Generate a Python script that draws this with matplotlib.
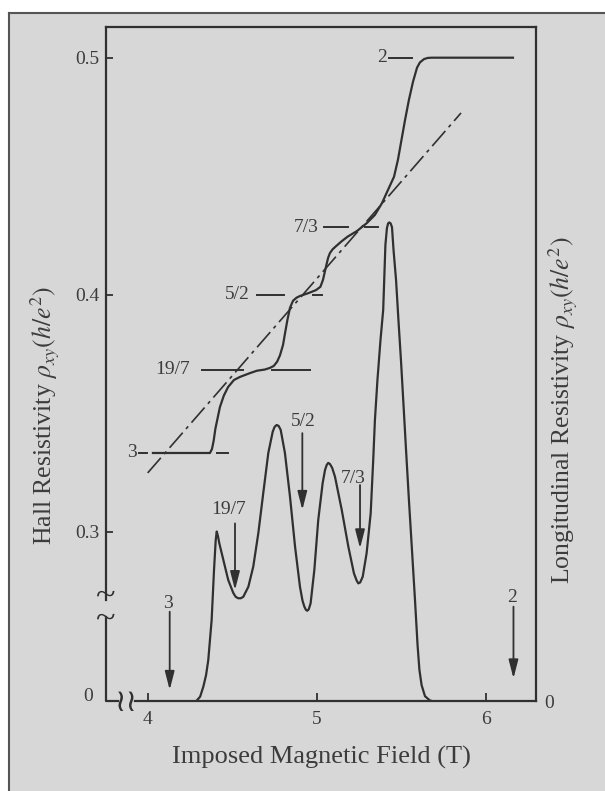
"""
Fractional quantum Hall effect: Hall and longitudinal resistivity vs field.
"""

import matplotlib.pyplot as plt
from matplotlib.patches import Rectangle
from matplotlib.lines import Line2D

plt.rcParams['font.family'] = ['Liberation Serif', 'DejaVu Serif', 'DejaVu Sans']
plt.rcParams['mathtext.fontset'] = 'stix'

INK = '#303030'
TEXT = '#3c3c3c'
PAPER = '#d7d7d7'

# Hall resistivity rho_xy in h/e^2 against field B (T)
hall_B = [4.031, 4.368, 4.380, 4.390, 4.400, 4.427, 4.450, 4.475, 4.510, 4.546,
          4.605, 4.646, 4.693, 4.723, 4.745, 4.765, 4.782, 4.800, 4.811, 4.826,
          4.841, 4.859, 4.880, 4.900, 4.953, 4.995, 5.021, 5.036, 5.054, 5.066,
          5.077, 5.093, 5.113, 5.145, 5.181, 5.237, 5.296, 5.343, 5.385, 5.420,
          5.456, 5.479, 5.500, 5.521, 5.544, 5.568, 5.592, 5.609, 5.633, 5.655,
          5.680, 6.159]
hall_v = [0.3333, 0.3333, 0.3350, 0.3385, 0.3435, 0.3527, 0.3575, 0.3611, 0.3641, 0.3654,
          0.367, 0.368, 0.3685, 0.3692, 0.3700, 0.3718, 0.3745, 0.3789, 0.3835, 0.3895,
          0.3945, 0.3975, 0.3988, 0.3995, 0.4008, 0.402, 0.4034, 0.4063, 0.4119, 0.4155,
          0.4176, 0.4192, 0.4205, 0.4225, 0.4245, 0.4269, 0.4303, 0.4337, 0.4387, 0.4442,
          0.4498, 0.4569, 0.4653, 0.4737, 0.4822, 0.4898, 0.4958, 0.4980, 0.4994, 0.4999,
          0.5, 0.5]

# longitudinal resistivity, arbitrary units (largest peak ~ 1)
xx_B = [4.285, 4.310, 4.329, 4.345, 4.358, 4.378, 4.392, 4.402, 4.408, 4.415,
        4.423, 4.447, 4.476, 4.506, 4.520, 4.535, 4.550, 4.565, 4.595, 4.624,
        4.654, 4.683, 4.713, 4.739, 4.750, 4.762, 4.774, 4.786, 4.811, 4.841,
        4.871, 4.900, 4.915, 4.926, 4.935, 4.943, 4.952, 4.963, 4.985, 5.008,
        5.034, 5.048, 5.058, 5.067, 5.077, 5.090, 5.107, 5.147, 5.186, 5.219,
        5.235, 5.245, 5.256, 5.271, 5.294, 5.318, 5.333, 5.343, 5.358, 5.376,
        5.392, 5.400, 5.405, 5.414, 5.421, 5.428, 5.436, 5.444, 5.453, 5.468,
        5.482, 5.497, 5.512, 5.527, 5.544, 5.562, 5.580, 5.595, 5.606, 5.619,
        5.639, 5.668, 5.692]
xx_u = [0.0, 0.010, 0.031, 0.055, 0.086, 0.170, 0.274, 0.336, 0.354, 0.345,
        0.330, 0.295, 0.253, 0.226, 0.218, 0.215, 0.215, 0.218, 0.239, 0.281,
        0.351, 0.434, 0.518, 0.562, 0.572, 0.576, 0.574, 0.566, 0.518, 0.427,
        0.3225, 0.239, 0.210, 0.1975, 0.191, 0.189, 0.192, 0.2046, 0.274, 0.378,
        0.4546, 0.482, 0.4927, 0.497, 0.4948, 0.487, 0.4683, 0.399, 0.3225, 0.267,
        0.252, 0.246, 0.248, 0.26, 0.309, 0.392, 0.503, 0.586, 0.670, 0.753,
        0.816, 0.899, 0.951, 0.986, 0.996, 0.998, 0.996, 0.988, 0.941, 0.878,
        0.795, 0.711, 0.618, 0.524, 0.420, 0.316, 0.211, 0.118, 0.066, 0.034,
        0.011, 0.002, 0.0]

# classical Hall line
classic_B = [4.0, 5.852]
classic_v = [0.3249, 0.4767]

# plateau markers on the Hall curve
plateau_labels = ['3', '19/7', '5/2', '7/3', '2']
plateau_values = [1 / 3, 7 / 19, 2 / 5, 3 / 7, 1 / 2]
plateau_text_B = [3.937, 4.250, 4.605, 5.009, 5.414]
plateau_dashes = [[(3.949, 3.996), (4.410, 4.475)],
                  [(4.321, 4.563), (4.735, 4.959)],
                  [(4.645, 4.804), (4.975, 5.033)],
                  [(5.042, 5.181), (5.284, 5.361)],
                  [(5.426, 5.562)]]

# filling-factor arrows on the longitudinal curve
arrow_labels = ['3', '19/7', '5/2', '7/3', '2']
arrow_B = [4.130, 4.516, 4.914, 5.255, 6.162]
arrow_top = [0.187, 0.371, 0.559, 0.451, 0.1975]
arrow_bottom = [0.024, 0.232, 0.399, 0.319, 0.048]
arrow_text_B = [4.122, 4.476, 4.918, 5.215, 6.151]
arrow_text_u = [0.2046, 0.399, 0.583, 0.465, 0.216]

fig = plt.figure(figsize=(6.05, 7.91), dpi=100, facecolor='white')

# scanned page background with its frame
fig.patches.append(Rectangle((9 / 605, 0), 1, 1 - 12.5 / 791, transform=fig.transFigure,
                             facecolor=PAPER, edgecolor='none', zorder=-10))
fig.lines.append(Line2D([9 / 605, 9 / 605], [0, 1 - 12.5 / 791], transform=fig.transFigure,
                        color='#555555', lw=1.5, zorder=-5))
fig.lines.append(Line2D([9 / 605, 1], [1 - 12.5 / 791, 1 - 12.5 / 791], transform=fig.transFigure,
                        color='#555555', lw=1.5, zorder=-5))

ax = fig.add_axes([0.1752, 0.1132, 0.7107, 0.8523])
ax.set_facecolor('none')
ax.set_xlim(3.7535, 6.295)
ax.set_ylim(0.22852, 0.51282)

ax2 = ax.twinx()
ax2.set_ylim(0, 1.4046)

ax.plot(hall_B, hall_v, color=INK, lw=1.6, solid_joinstyle='round')
ax.plot(classic_B, classic_v, color=INK, lw=1.2, dashes=(12, 3, 2, 3))
for lab, val, tb, segs in zip(plateau_labels, plateau_values, plateau_text_B, plateau_dashes):
    for b0, b1 in segs:
        ax.plot([b0, b1], [val, val], color=INK, lw=1.4)
    ax.text(tb, val, lab, ha='right', va='center', fontsize=14, color=TEXT)

ax2.plot(xx_B, xx_u, color=INK, lw=1.6, solid_joinstyle='round')
for lab, b, top, bot, tb, tu in zip(arrow_labels, arrow_B, arrow_top, arrow_bottom,
                                     arrow_text_B, arrow_text_u):
    ax2.annotate('', xy=(b, bot), xytext=(b, top),
                 arrowprops=dict(arrowstyle='-|>,head_length=0.7,head_width=0.18',
                                 color=INK, lw=1.3, shrinkA=0, shrinkB=0, mutation_scale=16))
    ax2.text(tb, tu, lab, ha='center', va='center', fontsize=14, color=TEXT)

# spines: broken left axis and x axis
for s in ['left', 'right', 'top', 'bottom']:
    ax.spines[s].set_visible(False)
for s in ['left', 'top', 'bottom']:
    ax2.spines[s].set_visible(False)
ax2.spines['right'].set_linewidth(1.6)
ax2.spines['right'].set_color(INK)
for s in ['top', 'bottom']:
    ax.spines[s].set_visible(True)
    ax.spines[s].set_linewidth(1.6)
    ax.spines[s].set_color(INK)
ax.spines['bottom'].set_bounds(3.925, 6.295)

ax.plot([0, 0], [1, 0.1505], transform=ax.transAxes, color=INK, lw=1.6, clip_on=False)
ax.plot([0, 0, 0.028], [0.1253, 0, 0], transform=ax.transAxes, color=INK, lw=1.6,
        clip_on=False)
ax.text(0.0, 0.1394, '~\n~', transform=ax.transAxes, ha='center', va='center', fontsize=26,
        linespacing=0.62, color=INK)
ax.text(0.048, -0.002, '\u2240\u2240', transform=ax.transAxes, ha='center', va='center',
        fontsize=22, color=INK, family=['DejaVu Sans'])

ax.set_xticks([4, 5, 6])
ax.set_xticklabels(['4', '5', '6'])
ax.tick_params(axis='x', direction='in', length=6, width=1.3, color=INK, pad=7,
               labelsize=14, labelcolor=TEXT)
ax.set_yticks([0.3, 0.4, 0.5])
ax.set_yticklabels(['0.3', '0.4', '0.5'])
ax.tick_params(axis='y', direction='in', length=5, width=1.3, color=INK, pad=5,
               labelsize=14, labelcolor=TEXT)
ax.text(-0.03, 0.008, '0', transform=ax.transAxes, ha='right', va='center', fontsize=14,
        color=TEXT)

ax2.set_yticks([0])
ax2.set_yticklabels(['0'])
ax2.tick_params(axis='y', length=0, pad=6, labelsize=14, labelcolor=TEXT)
ax2.tick_params(axis='x', length=0)

ax.set_xlabel('Imposed Magnetic Field (T)', fontsize=19, color=TEXT, labelpad=13)
fig.text(45 / 605, 1 - 416 / 791, r'Hall Resistivity $\rho_{xy}(h/e^2)$', rotation=90,
         ha='center', va='center', fontsize=18.5, color=TEXT)
fig.text(563 / 605, 1 - 410 / 791, r'Longitudinal Resistivity $\rho_{xy}(h/e^2)$',
         rotation=90, ha='center', va='center', fontsize=18.5, color=TEXT)

fig.savefig('out.png', dpi=100, facecolor='white')
